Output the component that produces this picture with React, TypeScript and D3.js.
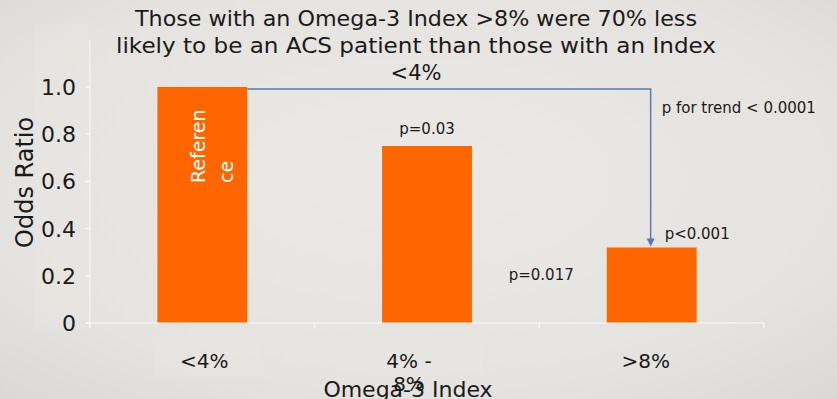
import * as d3 from 'd3';
import React from 'react';

const width = 837;
const height = 399;
const margin = { top: 40, right: 73, bottom: 76, left: 90 };
const orange = '#ff6600';
const blue = '#5b78b4';
const font = '"DejaVu Sans", sans-serif';

// data
const categories = ['<4%', '4% - 8%', '>8%'];
const categoryLines = [['<4%'], ['4% -', '8%'], ['>8%']];
const oddsRatios = [1.0, 0.75, 0.32];
const yTicks = [0, 0.2, 0.4, 0.6, 0.8, 1.0];
const yTickLabels = ['0', '0.2', '0.4', '0.6', '0.8', '1.0'];
const titleLines = [
  'Those with an Omega-3 Index >8% were 70% less',
  'likely to be an ACS patient than those with an Index',
  '<4%'
];
const titleWidths = [562, 600, 0];
const referenceLines = ['Referen', 'ce'];

export default function App() {
  const x = d3
    .scaleBand()
    .domain(categories)
    .range([margin.left, width - margin.right])
    .paddingInner(0.6)
    .paddingOuter(0.3);
  const y = d3
    .scaleLinear()
    .domain([0, 1.2])
    .range([height - margin.bottom, margin.top - 0.2]);

  const base = y(0);
  const step = x.step();
  const bounds = [margin.left, ...categories.map(c => x(c) - step * 0.3 + step)];

  // arrow from top of reference bar to top of >8% bar
  const x1 = x(categories[0]) + x.bandwidth();
  const yTop = y(oddsRatios[0]) + 2;
  const x3 = x(categories[2]) + x.bandwidth() / 2 - 1;
  const y3 = y(oddsRatios[2]);

  return (
    <svg width={width} height={height} style={{ position: 'absolute', left: 0, top: 0 }}>
      <defs>
        <radialGradient id="bg" cx="50%" cy="45%" r="75%">
          <stop offset="0%" stopColor="#ebe9e6" />
          <stop offset="70%" stopColor="#e5e3df" />
          <stop offset="100%" stopColor="#dad8d4" />
        </radialGradient>
      </defs>
      <rect width={width} height={height} fill="url(#bg)" />
      {/* faint text boxes from the slide */}
      <rect x={35} y={24} width={54} height={305} fill="#ebe9e6" opacity={0.3} />
      <rect x={154} y={337} width={107} height={40} fill="#ece9e6" opacity={0.3} />
      <rect x={377} y={337} width={106} height={40} fill="#ece9e6" opacity={0.3} />

      {/* title */}
      {titleLines.map((t, i) => (
        <text
          key={i}
          x={416}
          y={26 + i * 27}
          textAnchor="middle"
          fontFamily={font}
          fontSize={21}
          fill="#1a1a1a"
          textLength={titleWidths[i] || undefined}
          lengthAdjust="spacingAndGlyphs"
        >
          {t}
        </text>
      ))}

      {/* bars */}
      {categories.map((c, i) => (
        <rect
          key={c}
          x={x(c)}
          y={y(oddsRatios[i])}
          width={x.bandwidth()}
          height={base - y(oddsRatios[i])}
          fill={orange}
        />
      ))}

      {/* axes */}
      <line x1={margin.left} x2={margin.left} y1={y(1.2)} y2={base + 5} stroke="#fafafa" strokeWidth={1} />
      <line x1={margin.left - 5} x2={width - margin.right} y1={base} y2={base} stroke="#fafafa" strokeWidth={1.2} />
      {yTicks.map((t, i) => (
        <g key={t}>
          <line x1={margin.left - 5} x2={margin.left} y1={y(t)} y2={y(t)} stroke="#fafafa" />
          <text
            x={76}
            y={y(t) + 8}
            textAnchor="end"
            fontFamily={font}
            fontSize={22}
            fill="#1a1a1a"
          >
            {yTickLabels[i]}
          </text>
        </g>
      ))}
      {bounds.map((b, i) => (
        <line key={i} x1={b} x2={b} y1={base} y2={base + 5} stroke="#fafafa" />
      ))}

      {/* category labels */}
      {categories.map((c, i) =>
        categoryLines[i].map((l, j) => (
          <text
            key={c + j}
            x={x(c) + x.bandwidth() / 2 + (i === 1 ? -18 : i === 0 ? 2 : -6)}
            y={368 + j * 23}
            textAnchor="middle"
            fontFamily={font}
            fontSize={20}
            fill="#1a1a1a"
          >
            {l}
          </text>
        ))
      )}

      {/* axis titles */}
      <text
        transform={`translate(33, ${(y(0) + y(1.2)) / 2 + 1}) rotate(-90)`}
        textAnchor="middle"
        fontFamily={font}
        fontSize={24}
        fill="#1a1a1a"
      >
        Odds Ratio
      </text>
      <text x={408} y={397} textAnchor="middle" fontFamily={font} fontSize={22} fill="#1a1a1a">
        Omega-3 Index
      </text>

      {/* reference label inside first bar */}
      {referenceLines.map((l, i) => (
        <text
          key={l}
          transform={`translate(${x(categories[0]) + 48 + i * 28}, ${base - 140}) rotate(-90)`}
          fontFamily={font}
          fontSize={19}
          fill="#ffffff"
        >
          {l}
        </text>
      ))}

      {/* trend arrow */}
      <path
        d={`M${x1},${yTop}H${x3}V${y3 - 7}`}
        fill="none"
        stroke={blue}
        strokeWidth={1.5}
      />
      <path d={`M${x3 - 4},${y3 - 9}L${x3 + 4},${y3 - 9}L${x3},${y3 - 1}Z`} fill={blue} />

      {/* p values */}
      <text x={x3 + 11} y={yTop + 24} fontFamily={font} fontSize={15} fill="#1a1a1a">
        p for trend &lt; 0.0001
      </text>
      <text
        x={x(categories[1]) + x.bandwidth() / 2}
        y={y(oddsRatios[1]) - 12}
        textAnchor="middle"
        fontFamily={font}
        fontSize={15}
        fill="#1a1a1a"
      >
        p=0.03
      </text>
      <text x={x3 + 14} y={y3 - 8} fontFamily={font} fontSize={15} fill="#1a1a1a">
        p&lt;0.001
      </text>
      <text x={x(categories[2]) - 98} y={y3 + 33} fontFamily={font} fontSize={15} fill="#1a1a1a">
        p=0.017
      </text>
    </svg>
  );
}
